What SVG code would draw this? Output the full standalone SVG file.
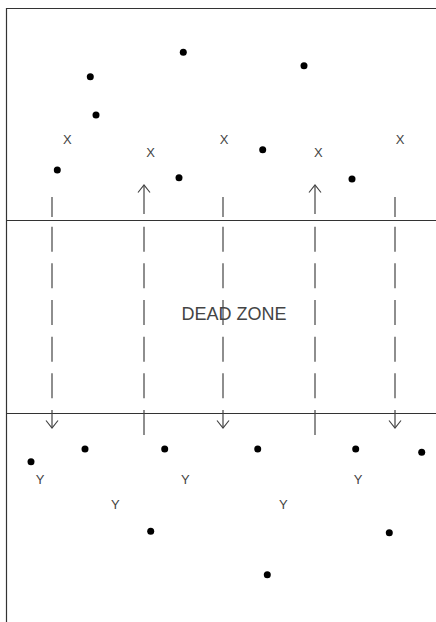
<svg xmlns="http://www.w3.org/2000/svg" width="436" height="622" viewBox="0 0 436 622">
<style>
.frame{stroke:#333;stroke-width:1.2;fill:none}
.ln{stroke:#444;stroke-width:1.2;fill:none}
.dash{stroke:#444;stroke-width:1.2;fill:none;stroke-dasharray:25 11.67}
.dot{fill:#000}
.lbl{font-family:"Liberation Sans",Arial,sans-serif;font-size:13px;fill:#444;text-anchor:middle}
.big{font-family:"Liberation Sans",Arial,sans-serif;font-size:18px;fill:#444;text-anchor:middle}
.ah{stroke:#444;stroke-width:1.2;fill:none;stroke-dasharray:none}
</style>
<defs>
<marker id="arr" markerUnits="userSpaceOnUse" markerWidth="16" markerHeight="16" viewBox="-9 -8 10 16" refX="0" refY="0" orient="auto" overflow="visible">
<path class="ah" d="M-7.5,-6 L0,0 L-7.5,6"/>
</marker>
</defs>
<rect width="436" height="622" fill="#fff"/>
<g id="frame">
<path class="frame" d="M6.5,622 V8.5 H436"/>
<path class="frame" d="M6.5,220.5 H436"/>
<path class="frame" d="M6.5,413.5 H436"/>
</g>
<g id="connectors">
<g id="c1">
<line class="ln" x1="52" y1="197" x2="52" y2="217"/>
<line class="dash" x1="52" y1="226.67" x2="52" y2="428" marker-end="url(#arr)"/>
</g>
<g id="c2">
<line class="dash" x1="144" y1="226.67" x2="144" y2="436.7"/>
<line class="ln" x1="144" y1="214" x2="144" y2="185" marker-end="url(#arr)"/>
</g>
<g id="c3">
<line class="ln" x1="223" y1="197" x2="223" y2="217"/>
<line class="dash" x1="223" y1="226.67" x2="223" y2="428" marker-end="url(#arr)"/>
</g>
<g id="c4">
<line class="dash" x1="315" y1="226.67" x2="315" y2="436.7"/>
<line class="ln" x1="315" y1="214" x2="315" y2="185" marker-end="url(#arr)"/>
</g>
<g id="c5">
<line class="ln" x1="395" y1="197" x2="395" y2="217"/>
<line class="dash" x1="395" y1="226.67" x2="395" y2="428" marker-end="url(#arr)"/>
</g>
</g>
<g id="top-dots">
<circle class="dot" cx="183.3" cy="52.3" r="3.5"/>
<circle class="dot" cx="90.3" cy="76.7" r="3.5"/>
<circle class="dot" cx="304" cy="65.7" r="3.5"/>
<circle class="dot" cx="96" cy="115" r="3.5"/>
<circle class="dot" cx="262.7" cy="149.7" r="3.5"/>
<circle class="dot" cx="57.3" cy="170" r="3.5"/>
<circle class="dot" cx="179" cy="177.7" r="3.5"/>
<circle class="dot" cx="352" cy="179" r="3.5"/>
</g>
<g id="x-labels">
<text class="lbl" x="67.3" y="144">X</text>
<text class="lbl" x="150.7" y="157.4">X</text>
<text class="lbl" x="224" y="144">X</text>
<text class="lbl" x="318.3" y="157.4">X</text>
<text class="lbl" x="400" y="144">X</text>
</g>
<g id="dead-zone">
<text class="big" x="234" y="319.5">DEAD ZONE</text>
</g>
<g id="bottom-dots">
<circle class="dot" cx="31" cy="461.7" r="3.5"/>
<circle class="dot" cx="85" cy="449" r="3.5"/>
<circle class="dot" cx="164.7" cy="449" r="3.5"/>
<circle class="dot" cx="257.7" cy="449" r="3.5"/>
<circle class="dot" cx="355.7" cy="449" r="3.5"/>
<circle class="dot" cx="421.7" cy="452.3" r="3.5"/>
<circle class="dot" cx="150.7" cy="531.3" r="3.5"/>
<circle class="dot" cx="389.3" cy="532.7" r="3.5"/>
<circle class="dot" cx="267.3" cy="574.7" r="3.5"/>
</g>
<g id="y-labels">
<text class="lbl" x="40" y="483.7">Y</text>
<text class="lbl" x="185.3" y="483.7">Y</text>
<text class="lbl" x="358" y="483.7">Y</text>
<text class="lbl" x="115.3" y="508.7">Y</text>
<text class="lbl" x="283.3" y="508.7">Y</text>
</g>
</svg>
